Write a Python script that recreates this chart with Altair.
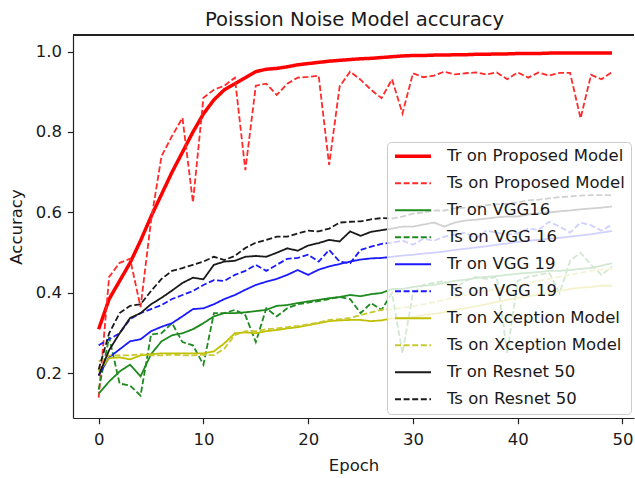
import altair as alt
import pandas as pd

epochs = list(range(50))

series_names = [
    "Tr on Proposed Model", "Ts on Proposed Model",
    "Tr on VGG16", "Ts on VGG 16",
    "Tr on VGG 19", "Ts on VGG 19",
    "Tr on Xception Model", "Ts on Xception Model",
    "Tr on Resnet 50", "Ts on Resnet 50",
]

tr_proposed = [0.31, 0.385, 0.43, 0.475, 0.53, 0.59, 0.645, 0.70, 0.75, 0.80,
               0.845, 0.88, 0.905, 0.92, 0.935, 0.95, 0.956, 0.958, 0.962, 0.967,
               0.970, 0.973, 0.976, 0.978, 0.980, 0.982, 0.983, 0.985, 0.987, 0.989,
               0.990, 0.990, 0.991, 0.991, 0.992, 0.992, 0.993, 0.993, 0.994, 0.994,
               0.995, 0.995, 0.995, 0.996, 0.996, 0.996, 0.996, 0.996, 0.996, 0.996]
ts_proposed = [0.14, 0.44, 0.475, 0.485, 0.365, 0.58, 0.74, 0.79, 0.835, 0.625,
               0.885, 0.905, 0.915, 0.935, 0.705, 0.915, 0.92, 0.892, 0.92, 0.935,
               0.937, 0.94, 0.718, 0.913, 0.95, 0.93, 0.905, 0.884, 0.931, 0.846,
               0.946, 0.936, 0.94, 0.95, 0.943, 0.946, 0.948, 0.943, 0.948, 0.931,
               0.948, 0.935, 0.948, 0.94, 0.947, 0.947, 0.834, 0.942, 0.931, 0.949]
tr_vgg16 = [0.15, 0.18, 0.205, 0.222, 0.193, 0.248, 0.28, 0.295, 0.30, 0.31,
            0.325, 0.342, 0.35, 0.35, 0.352, 0.355, 0.358, 0.368, 0.37, 0.375,
            0.379, 0.383, 0.387, 0.39, 0.395, 0.392, 0.397, 0.40, 0.41, 0.41,
            0.415, 0.418, 0.42, 0.425, 0.43, 0.433, 0.437, 0.44, 0.442, 0.445,
            0.448, 0.45, 0.452, 0.455, 0.455, 0.457, 0.46, 0.462, 0.468, 0.474]
ts_vgg16 = [0.16, 0.29, 0.175, 0.17, 0.145, 0.297, 0.30, 0.325, 0.278, 0.27,
            0.222, 0.35, 0.35, 0.358, 0.345, 0.278, 0.362, 0.342, 0.362, 0.372,
            0.376, 0.38, 0.385, 0.39, 0.385, 0.35, 0.375, 0.358, 0.40, 0.25,
            0.40, 0.42, 0.425, 0.43, 0.41, 0.43, 0.44, 0.435, 0.44, 0.25,
            0.43, 0.44, 0.445, 0.45, 0.40, 0.48, 0.50, 0.47, 0.445, 0.465]
tr_vgg19 = [0.195, 0.24, 0.26, 0.28, 0.285, 0.305, 0.316, 0.325, 0.342, 0.36,
            0.362, 0.372, 0.385, 0.395, 0.408, 0.42, 0.428, 0.435, 0.445, 0.457,
            0.445, 0.458, 0.466, 0.472, 0.478, 0.483, 0.486, 0.487, 0.49, 0.493,
            0.495, 0.498, 0.50, 0.503, 0.507, 0.51, 0.513, 0.516, 0.52, 0.523,
            0.527, 0.53, 0.532, 0.535, 0.537, 0.54, 0.543, 0.546, 0.55, 0.554]
ts_vgg19 = [0.27, 0.285, 0.30, 0.335, 0.35, 0.36, 0.37, 0.385, 0.395, 0.405,
            0.42, 0.432, 0.43, 0.445, 0.455, 0.47, 0.455, 0.47, 0.485, 0.487,
            0.495, 0.478, 0.507, 0.478, 0.474, 0.507, 0.515, 0.522, 0.525, 0.53,
            0.52, 0.535, 0.53, 0.54, 0.545, 0.55, 0.535, 0.555, 0.55, 0.545,
            0.548, 0.56, 0.557, 0.577, 0.565, 0.55, 0.575, 0.568, 0.555, 0.57]
tr_xception = [0.205, 0.238, 0.24, 0.235, 0.245, 0.248, 0.25, 0.25, 0.25, 0.25,
               0.25, 0.255, 0.275, 0.30, 0.302, 0.30, 0.305, 0.308, 0.312, 0.315,
               0.32, 0.325, 0.33, 0.332, 0.333, 0.333, 0.33, 0.332, 0.337, 0.338,
               0.34, 0.345, 0.348, 0.352, 0.358, 0.362, 0.367, 0.372, 0.378, 0.383,
               0.388, 0.392, 0.396, 0.40, 0.405, 0.41, 0.413, 0.415, 0.418, 0.418]
ts_xception = [0.23, 0.245, 0.245, 0.245, 0.248, 0.245, 0.245, 0.247, 0.245, 0.245,
               0.247, 0.245, 0.262, 0.295, 0.305, 0.305, 0.31, 0.312, 0.315, 0.318,
               0.322, 0.327, 0.333, 0.335, 0.338, 0.345, 0.352, 0.358, 0.36, 0.363,
               0.367, 0.372, 0.377, 0.383, 0.39, 0.395, 0.40, 0.405, 0.41, 0.415,
               0.42, 0.425, 0.43, 0.435, 0.44, 0.445, 0.45, 0.455, 0.458, 0.46]
tr_resnet = [0.195, 0.258, 0.30, 0.338, 0.35, 0.372, 0.388, 0.406, 0.425, 0.438,
             0.434, 0.47, 0.478, 0.48, 0.49, 0.492, 0.49, 0.50, 0.511, 0.505,
             0.518, 0.524, 0.532, 0.528, 0.553, 0.542, 0.552, 0.556, 0.56, 0.565,
             0.565, 0.57, 0.575, 0.565, 0.575, 0.58, 0.582, 0.585, 0.588, 0.59,
             0.59, 0.595, 0.598, 0.60, 0.603, 0.605, 0.608, 0.61, 0.612, 0.615]
ts_resnet = [0.21, 0.30, 0.35, 0.368, 0.372, 0.405, 0.435, 0.455, 0.462, 0.47,
             0.478, 0.49, 0.482, 0.492, 0.512, 0.525, 0.532, 0.54, 0.54, 0.548,
             0.555, 0.553, 0.56, 0.575, 0.577, 0.578, 0.583, 0.586, 0.585, 0.59,
             0.597, 0.60, 0.605, 0.605, 0.61, 0.612, 0.615, 0.618, 0.62, 0.622,
             0.625, 0.63, 0.632, 0.635, 0.638, 0.64, 0.642, 0.643, 0.643, 0.643]

series_values = [tr_proposed, ts_proposed, tr_vgg16, ts_vgg16, tr_vgg19, ts_vgg19,
                 tr_xception, ts_xception, tr_resnet, ts_resnet]

line_colors = ["#ff0000", "#ff2a2a", "#1f8a1f", "#1f8a1f", "#1a1aff", "#1a1aff",
               "#bfbf00", "#c8c830", "#1a1a1a", "#1a1a1a"]
line_dashes = [[1, 0], [6, 2.6], [1, 0], [6, 2.6], [1, 0], [6, 2.6],
               [1, 0], [6, 2.6], [1, 0], [6, 2.6]]
line_widths = [3.5, 1.8, 1.8, 1.8, 1.8, 1.8, 1.8, 1.8, 1.8, 1.8]

rows = []
for order, (name, vals) in enumerate(zip(series_names, series_values)):
    for e, v in zip(epochs, vals):
        rows.append({"Epoch": e, "Accuracy": v, "series": name, "order": order})
df = pd.DataFrame(rows)

FONT = "DejaVu Sans"

legend = alt.Legend(
    title=None, orient="none", legendX=314, legendY=107,
    symbolType="stroke", symbolSize=1296, symbolOffset=0,
    labelFontSize=16.5, labelFont=FONT, labelColor="#1a1a1a", labelOffset=14,
    labelLimit=400, rowPadding=10.0, clipHeight=16.5, padding=6,
    fillColor="rgba(255,255,255,0.8)", strokeColor="#cccccc", cornerRadius=4,
)

base = alt.Chart(df).mark_line(clip=True).encode(
    x=alt.X("Epoch:Q",
            scale=alt.Scale(domain=[-2.45, 51.1], nice=False, zero=False),
            axis=alt.Axis(values=[0, 10, 20, 30, 40, 50], format="d", title="Epoch",
                          grid=False, tickSize=5.7, labelPadding=7.5,
                          titlePadding=10)),
    y=alt.Y("Accuracy:Q",
            scale=alt.Scale(domain=[0.0894, 1.041], nice=False, zero=False),
            axis=alt.Axis(values=[0.2, 0.4, 0.6, 0.8, 1.0], format=".1f",
                          title="Accuracy", grid=False, tickSize=5.7,
                          labelPadding=5.7, titlePadding=11)),
    color=alt.Color("series:N", sort=series_names,
                    scale=alt.Scale(domain=series_names, range=line_colors),
                    legend=legend),
    strokeDash=alt.StrokeDash("series:N", sort=series_names,
                              scale=alt.Scale(domain=series_names, range=line_dashes),
                              legend=legend),
    strokeWidth=alt.StrokeWidth("series:N", sort=series_names,
                                scale=alt.Scale(type="ordinal", domain=series_names,
                                                range=line_widths),
                                legend=legend),
    order=alt.Order("Epoch:Q"),
)

top_spine = alt.Chart(df).mark_rule(color="#222222", strokeWidth=1.2).encode(
    x=alt.value(0), x2=alt.value(561), y=alt.value(0)
)

chart = alt.layer(base, top_spine).properties(
    width=561, height=383,
    title=alt.TitleParams("Poission Noise Model accuracy", font=FONT, fontSize=19.6,
                          fontWeight="normal", color="#1a1a1a", anchor="middle",
                          offset=4, dx=1),
    autosize=alt.AutoSizeParams(type="none"),
    padding={"left": 73, "top": 35, "right": 1, "bottom": 60},
).configure_view(stroke=None).configure_axis(
    labelFont=FONT, titleFont=FONT, labelFontSize=16.5, titleFontSize=16.5,
    labelColor="#1a1a1a", titleColor="#1a1a1a", titleFontWeight="normal",
    domainColor="#222222", domainWidth=1.2, tickColor="#222222", tickWidth=1.2,
)

chart.save("out.html", embed_options={"renderer": "svg", "actions": False})
